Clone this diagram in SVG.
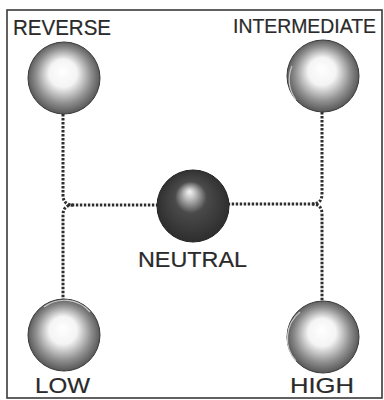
<svg xmlns="http://www.w3.org/2000/svg" width="384" height="400" viewBox="0 0 384 400">
<style>
.lbl{font-family:"Liberation Sans","DejaVu Sans",sans-serif;font-size:22px;fill:#2a2a2a;stroke:#2a2a2a;stroke-width:0.2;}
.dot{fill:none;stroke:#2e2e2e;stroke-width:3;stroke-dasharray:2.4 1.6;}
.rim{fill:none;stroke:#c8c8c8;stroke-width:1.2;}
</style>
<defs>
<radialGradient id="light" cx="0.5" cy="0.5" r="0.55" fx="0.48" fy="0.4">
<stop offset="0" stop-color="#ffffff"/>
<stop offset="0.35" stop-color="#f4f4f4"/>
<stop offset="0.7" stop-color="#8e8e8e"/>
<stop offset="1" stop-color="#444444"/>
</radialGradient>
<radialGradient id="dark" cx="0.5" cy="0.5" r="0.55" fx="0.45" fy="0.3">
<stop offset="0" stop-color="#f6f6f6"/>
<stop offset="0.12" stop-color="#c8c8c8"/>
<stop offset="0.4" stop-color="#4a4a4a"/>
<stop offset="1" stop-color="#2a2a2a"/>
</radialGradient>
</defs>
<rect x="0" y="0" width="384" height="400" fill="#ffffff"/>
<rect x="7" y="10" width="375" height="388" fill="none" stroke="#3a3a3a" stroke-width="1.6"/>
<g id="connectors">
<path class="dot" d="M63 114 V195 Q63 205 73 205 H157"/>
<path class="dot" d="M73 205 Q63 205 63 215 V300"/>
<path class="dot" d="M322 112 V194 Q322 204 312 204 H229"/>
<path class="dot" d="M312 204 Q322 204 322 214 V302"/>
</g>
<g id="reverse">
<circle cx="64" cy="78" r="36" fill="url(#light)" stroke="#3a3a3a" stroke-width="1"/>
<text class="lbl" x="13" y="35" textLength="98" lengthAdjust="spacingAndGlyphs">REVERSE</text>
</g>
<g id="intermediate">
<circle cx="323" cy="76" r="36" fill="url(#light)" stroke="#3a3a3a" stroke-width="1"/>
<path class="rim" d="M296 100 A34 34 0 0 1 292 66"/>
<text class="lbl" x="233" y="33" style="font-size:19.5px" textLength="143" lengthAdjust="spacingAndGlyphs">INTERMEDIATE</text>
</g>
<g id="neutral">
<circle cx="193" cy="206" r="36" fill="url(#dark)" stroke="#222" stroke-width="1"/>
<text class="lbl" x="138" y="267" textLength="109" lengthAdjust="spacingAndGlyphs">NEUTRAL</text>
</g>
<g id="low">
<circle cx="64" cy="335" r="36" fill="url(#light)" stroke="#3a3a3a" stroke-width="1"/>
<path class="rim" d="M44 307 A34 34 0 0 1 90 312"/>
<text class="lbl" x="35" y="393" textLength="55" lengthAdjust="spacingAndGlyphs">LOW</text>
</g>
<g id="high">
<circle cx="323" cy="337" r="36" fill="url(#light)" stroke="#3a3a3a" stroke-width="1"/>
<path class="rim" d="M296 361 A34 34 0 0 1 300 312"/>
<text class="lbl" x="290" y="393" textLength="64" lengthAdjust="spacingAndGlyphs">HIGH</text>
</g>
</svg>
